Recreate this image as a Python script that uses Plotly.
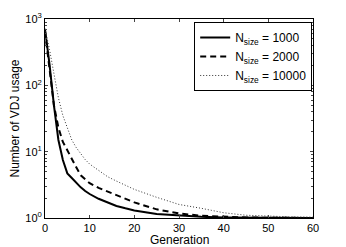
import plotly.graph_objects as go

generations = [0, 1, 2, 3, 4, 5, 6, 7, 8, 9, 10, 12, 14, 16, 18, 20, 25, 30, 35, 40, 45, 50, 55, 60]
n1000 = [700, 210, 50, 15, 7.5, 4.7, 4.0, 3.4, 2.9, 2.55, 2.3, 1.95, 1.7, 1.52, 1.4, 1.3, 1.15, 1.08, 1.04, 1.02, 1.01, 1.0, 1.0, 1.0]
n2000 = [650, 190, 50, 23, 14, 10.5, 8.0, 5.8, 4.4, 3.8, 3.35, 2.85, 2.5, 2.25, 1.95, 1.72, 1.35, 1.17, 1.08, 1.04, 1.02, 1.01, 1.0, 1.0]
n10000 = [720, 350, 150, 65, 35, 22, 15, 11.5, 9.2, 7.6, 6.5, 5.2, 4.2, 3.6, 3.1, 2.7, 2.05, 1.6, 1.4, 1.2, 1.1, 1.06, 1.04, 1.03]
labels = ["N<sub>size</sub> = 1000", "N<sub>size</sub> = 2000", "N<sub>size</sub> = 10000"]
xticks = [0, 10, 20, 30, 40, 50, 60]
yticks = [1, 10, 100, 1000]
yticktext = ["10<sup>0</sup>", "10<sup>1</sup>", "10<sup>2</sup>", "10<sup>3</sup>"]
x_title = "Generation"
y_title = "Number of VDJ usage"

minor_vals = [m * 10 ** e for e in range(0, 3) for m in range(2, 10)]

fig = go.Figure()
fig.add_trace(go.Scatter(x=generations, y=n1000, mode="lines", name=labels[0],
                         line=dict(color="black", width=2, dash="solid")))
fig.add_trace(go.Scatter(x=generations, y=n2000, mode="lines", name=labels[1],
                         line=dict(color="black", width=2, dash="6px,4px")))
fig.add_trace(go.Scatter(x=generations, y=n10000, mode="lines", name=labels[2],
                         line=dict(color="#333333", width=1, dash="1px,2px")))

font = dict(family="Liberation Sans, Arial, sans-serif", size=12, color="black")
tickfont = dict(family="Liberation Sans, Arial, sans-serif", size=11, color="black")
fig.update_layout(
    width=346, height=247,
    margin=dict(l=37, r=41, t=11, b=37),
    paper_bgcolor="white", plot_bgcolor="white",
    font=font,
    showlegend=True,
    legend=dict(x=0.997, y=0.985, xanchor="right", yanchor="top",
                bordercolor="black", borderwidth=1, bgcolor="white",
                font=dict(family="Liberation Sans, Arial, sans-serif", size=12, color="black"),
                tracegroupgap=0, itemwidth=30),
    annotations=[dict(text=x_title, xref="paper", yref="paper", x=0.5, y=-0.112,
                      xanchor="center", yanchor="middle", showarrow=False, font=font)],
)
fig.update_xaxes(range=[0, 60], tickvals=xticks, ticks="inside", ticklen=3,
                 tickfont=tickfont,
                 showline=True, linecolor="black", linewidth=1, mirror="ticks",
                 showgrid=False, zeroline=False, automargin=False)
fig.update_yaxes(type="log", range=[0, 3], tickvals=yticks, ticktext=yticktext,
                 ticks="inside", ticklen=3, tickfont=tickfont,
                 minor=dict(tickvals=minor_vals, ticks="inside", ticklen=2, showgrid=False),
                 showline=True, linecolor="black", linewidth=1, mirror="ticks",
                 showgrid=False, zeroline=False, automargin=False,
                 title=dict(text=y_title, standoff=4, font=font))

fig.write_html("out.html")
